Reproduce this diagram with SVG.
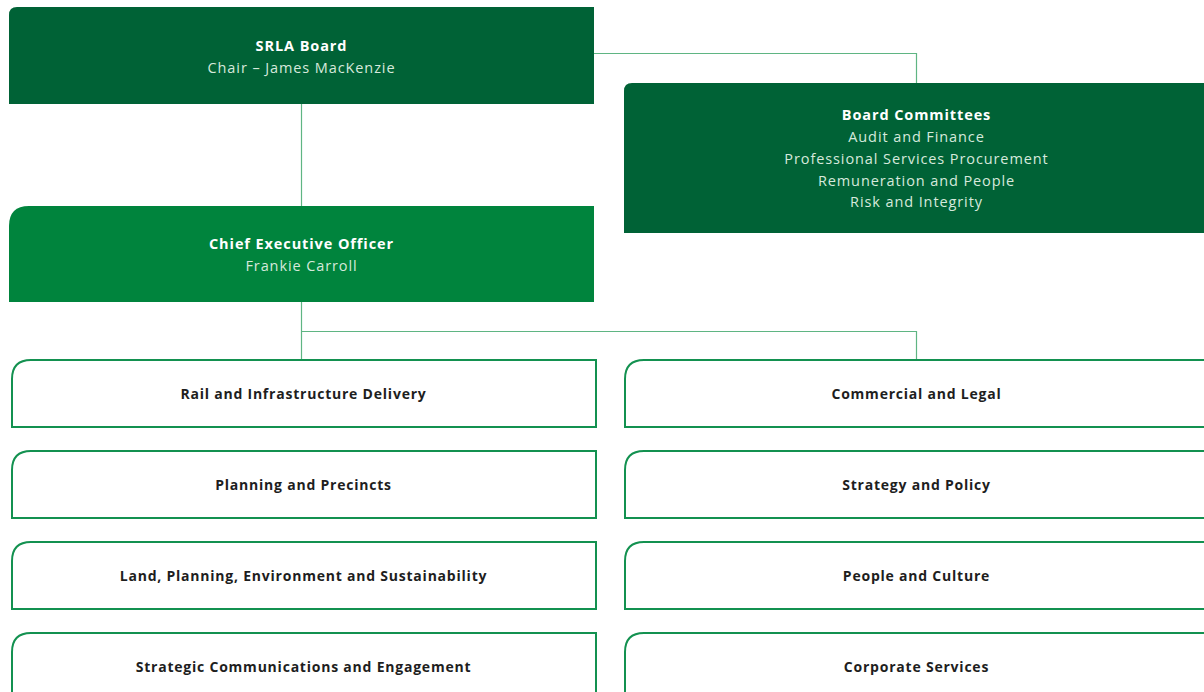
<svg xmlns="http://www.w3.org/2000/svg" width="1204" height="692" viewBox="0 0 1204 692">
  <style>
    .lead { fill: #006236; }
    .ceo { fill: #00843d; }
    .unit { fill: #ffffff; stroke: #139150; stroke-width: 2; }
    .link { fill: none; stroke: #5fb583; stroke-width: 1.2; }
    text { font-family: "Open Sans", "Liberation Sans", sans-serif; font-size: 14.5px; text-anchor: middle; letter-spacing: 0.9px; }
    .ttl { fill: #ffffff; font-weight: 700; }
    .sub { fill: #d6e9dc; }
    .unit-label { fill: #1e1e1e; font-weight: 700; font-size: 14px; letter-spacing: 0.78px; }
  </style>

  <!-- connectors -->
  <g id="connectors">
    <path class="link" d="M594 53.5 H916.5 V83"/>
    <path class="link" d="M301.5 104 V206"/>
    <path class="link" d="M301.5 302 V359"/>
    <path class="link" d="M301.5 331.5 H916.5 V359"/>
  </g>

  <g id="srla-board">
    <path class="lead" d="M9 104 V15 Q9 7 17 7 H594 V104 Z"/>
    <text class="ttl" x="301.5" y="51">SRLA Board</text>
    <text class="sub" x="301.5" y="73">Chair – James MacKenzie</text>
  </g>

  <g id="board-committees">
    <path class="lead" d="M624 233 V91 Q624 83 632 83 H1210 V233 Z"/>
    <text class="ttl" x="916.5" y="120">Board Committees</text>
    <text class="sub" x="916.5" y="142">Audit and Finance</text>
    <text class="sub" x="916.5" y="164">Professional Services Procurement</text>
    <text class="sub" x="916.5" y="185.5">Remuneration and People</text>
    <text class="sub" x="916.5" y="207">Risk and Integrity</text>
  </g>

  <g id="ceo">
    <path class="ceo" d="M9 302 V226 Q9 206 29 206 H594 V302 Z"/>
    <text class="ttl" x="301.5" y="249">Chief Executive Officer</text>
    <text class="sub" x="301.5" y="271">Frankie Carroll</text>
  </g>

  <!-- divisions, left column -->
  <g id="rail-infrastructure">
    <path class="unit" d="M12 427 V379 Q12 360 31 360 H596 V427 Z"/>
    <text class="unit-label" x="303.5" y="399">Rail and Infrastructure Delivery</text>
  </g>
  <g id="planning-precincts">
    <path class="unit" d="M12 518 V470 Q12 451 31 451 H596 V518 Z"/>
    <text class="unit-label" x="303.5" y="490">Planning and Precincts</text>
  </g>
  <g id="land-planning">
    <path class="unit" d="M12 609 V561 Q12 542 31 542 H596 V609 Z"/>
    <text class="unit-label" x="303.5" y="581">Land, Planning, Environment and Sustainability</text>
  </g>
  <g id="strategic-comms">
    <path class="unit" d="M12 700 V652 Q12 633 31 633 H596 V700 Z"/>
    <text class="unit-label" x="303.5" y="672">Strategic Communications and Engagement</text>
  </g>

  <!-- divisions, right column -->
  <g id="commercial-legal">
    <path class="unit" d="M625 427 V379 Q625 360 644 360 H1212 V427 Z"/>
    <text class="unit-label" x="916.5" y="399">Commercial and Legal</text>
  </g>
  <g id="strategy-policy">
    <path class="unit" d="M625 518 V470 Q625 451 644 451 H1212 V518 Z"/>
    <text class="unit-label" x="916.5" y="490">Strategy and Policy</text>
  </g>
  <g id="people-culture">
    <path class="unit" d="M625 609 V561 Q625 542 644 542 H1212 V609 Z"/>
    <text class="unit-label" x="916.5" y="581">People and Culture</text>
  </g>
  <g id="corporate-services">
    <path class="unit" d="M625 700 V652 Q625 633 644 633 H1212 V700 Z"/>
    <text class="unit-label" x="916.5" y="672">Corporate Services</text>
  </g>
</svg>
